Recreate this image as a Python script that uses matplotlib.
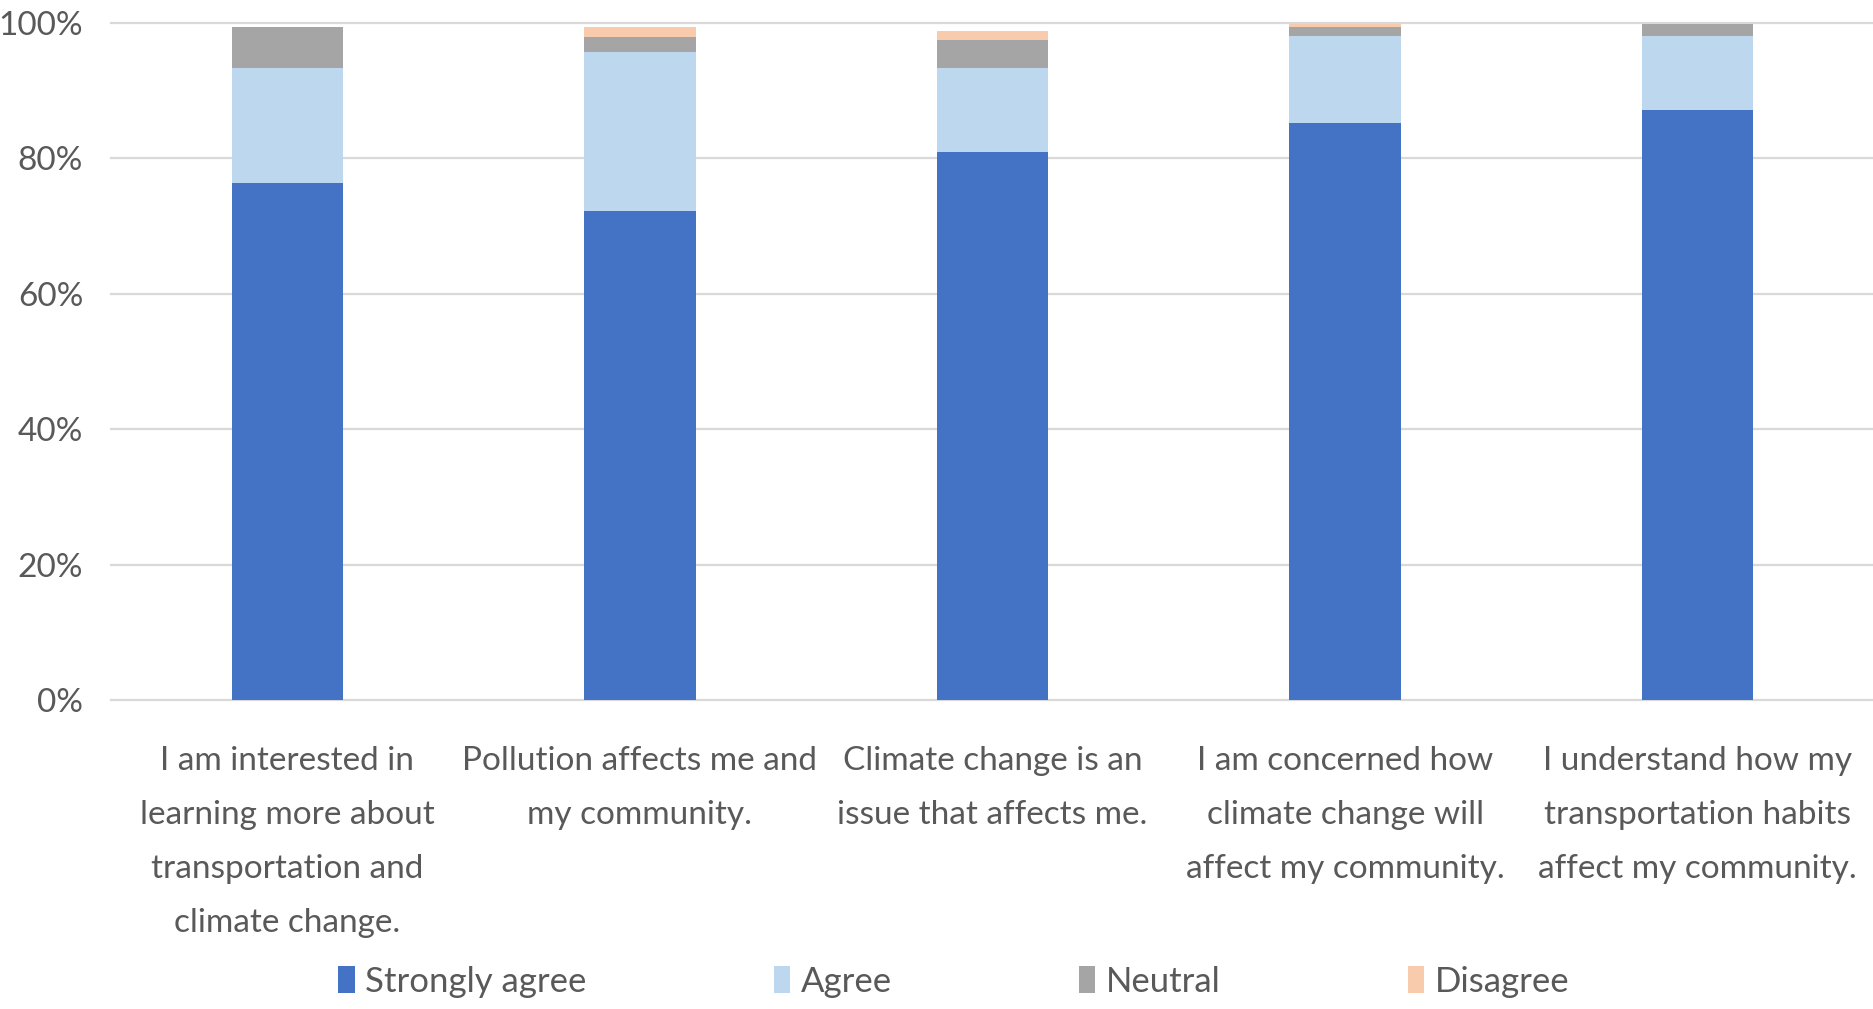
import matplotlib
matplotlib.use("Agg")
import matplotlib.pyplot as plt
from matplotlib import font_manager
from matplotlib.ticker import PercentFormatter

# pick a narrow font if there is one, the original looks like squeezed Calibri
names = {f.name for f in font_manager.fontManager.ttflist}
if "Liberation Sans Narrow" in names:
    font = "Liberation Sans Narrow"
else:
    font = "Lato"
plt.rcParams["font.family"] = [font, "DejaVu Sans"]

categories = [
    "I am interested in\nlearning more about\ntransportation and\nclimate change.",
    "Pollution affects me and\nmy community.",
    "Climate change is an\nissue that affects me.",
    "I am concerned how\nclimate change will\naffect my community.",
    "I understand how my\ntransportation habits\naffect my community.",
]
strongly_agree = [76.4, 72.2, 81.0, 85.2, 87.2]
agree = [17.0, 23.5, 12.4, 12.9, 10.9]
neutral = [6.0, 2.3, 4.1, 1.3, 1.7]
disagree = [0.0, 1.4, 1.3, 0.4, 0.0]

series = [
    ("Strongly agree", strongly_agree, "#4472C4"),
    ("Agree", agree, "#BDD7EE"),
    ("Neutral", neutral, "#A5A5A5"),
    ("Disagree", disagree, "#F8CBAD"),
]
yticks = [0, 20, 40, 60, 80, 100]

fig = plt.figure(figsize=(18.74, 10.09), dpi=100)
ax = fig.add_axes([111 / 1874, 1 - 700 / 1009, 1 - 111 / 1874, (700 - 23) / 1009])

for t in yticks:
    ax.axhline(t, color="#D9D9D9", lw=1.6, zorder=0, clip_on=False)

x = list(range(len(categories)))
bottom = [0.0] * len(categories)
for name, vals, col in series:
    ax.bar(x, vals, width=0.316, bottom=bottom, color=col, label=name, zorder=2)
    bottom = [b + v for b, v in zip(bottom, vals)]

ax.set_xlim(-0.5, len(categories) - 0.5)
ax.set_ylim(0, 100)
ax.set_yticks(yticks)
ax.yaxis.set_major_formatter(PercentFormatter(decimals=0))
ax.set_xticks(x)
ax.set_xticklabels(categories, linespacing=2.0)
ax.tick_params(axis="y", length=0, pad=20, labelsize=24, labelcolor="#595959")
ax.tick_params(axis="x", length=0, pad=33, labelsize=24, labelcolor="#595959")
for s in ax.spines.values():
    s.set_visible(False)

fig.legend(loc="center", bbox_to_anchor=(0.509, 0.027), ncol=4, frameon=False,
           fontsize=25, labelcolor="#595959", handlelength=0.47, handleheight=0.8,
           handletextpad=0.3, columnspacing=5.4)

fig.savefig("out.png", dpi=100)
